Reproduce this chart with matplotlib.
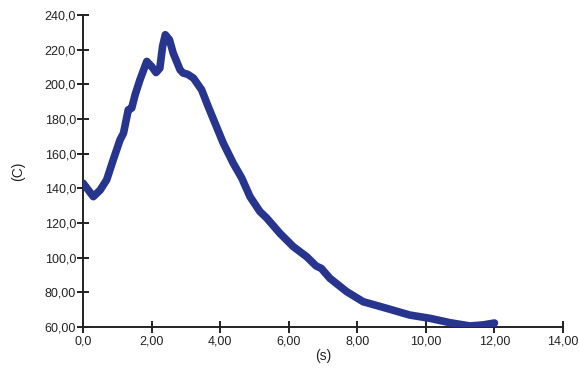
import matplotlib
matplotlib.use("Agg")
import matplotlib.pyplot as plt
from matplotlib.ticker import FixedLocator, FixedFormatter

# temperature trace over time
time_s = [0.0, 0.30, 0.50, 0.69, 0.88, 1.08, 1.18, 1.32, 1.42, 1.52, 1.66,
          1.86, 2.00, 2.13, 2.24, 2.32, 2.40, 2.52, 2.63, 2.83, 2.92, 3.05,
          3.22, 3.46, 3.65, 3.85, 4.09, 4.38, 4.63, 4.87, 5.16, 5.36, 5.74,
          6.13, 6.52, 6.80, 6.95, 7.20, 7.69, 8.17, 8.85, 9.53, 10.12, 10.70,
          11.28, 11.67, 12.00]
temp_c = [143.0, 135.2, 139.0, 144.9, 156.4, 168.0, 171.8, 185.3, 186.3, 194.0, 202.6,
          213.2, 210.3, 206.8, 209.3, 221.8, 228.6, 225.7, 218.0, 208.4, 206.5, 205.8,
          203.6, 196.8, 187.2, 177.6, 166.1, 154.5, 145.9, 135.2, 126.6, 122.8, 114.1,
          106.4, 100.6, 95.2, 93.8, 88.1, 80.4, 74.6, 70.8, 66.9, 65.0, 62.5,
          60.6, 61.2, 62.3]

x_ticks = [0, 2, 4, 6, 8, 10, 12, 14]
x_labels = ["0,0", "2,00", "4,00", "6,00", "8,00", "10,00", "12,00", "14,00"]
y_ticks = [60, 80, 100, 120, 140, 160, 180, 200, 220, 240]
y_labels = ["60,00", "80,00", "100,0", "120,0", "140,0", "160,0", "180,0",
            "200,0", "220,0", "240,0"]

plt.rcParams["font.family"] = ["Liberation Sans", "DejaVu Sans"]

fig = plt.figure(figsize=(5.79, 3.70), dpi=100)
ax = fig.add_axes([0.1434, 0.1162, 0.829, 0.8433])

ax.plot(time_s, temp_c, color="#27358f", lw=5.5, solid_capstyle="round",
        solid_joinstyle="round", zorder=3)

ax.set_xlim(0, 14)
ax.set_ylim(60, 240)
ax.xaxis.set_major_locator(FixedLocator(x_ticks))
ax.xaxis.set_major_formatter(FixedFormatter(x_labels))
ax.yaxis.set_major_locator(FixedLocator(y_ticks))
ax.yaxis.set_major_formatter(FixedFormatter(y_labels))

for s in ("top", "right"):
    ax.spines[s].set_visible(False)
for s in ("left", "bottom"):
    ax.spines[s].set_linewidth(1.4)
    ax.spines[s].set_color("#222222")
ax.tick_params(direction="inout", length=8, width=1.4, color="#222222",
               labelsize=9, labelcolor="#222222")
ax.tick_params(axis="x", pad=2)
ax.tick_params(axis="y", pad=1)

ax.set_xlabel("(s)", fontsize=10, labelpad=1, color="#222222")
ax.set_ylabel("(C)", fontsize=10, labelpad=14, color="#222222")

fig.savefig("out.png", dpi=100)
